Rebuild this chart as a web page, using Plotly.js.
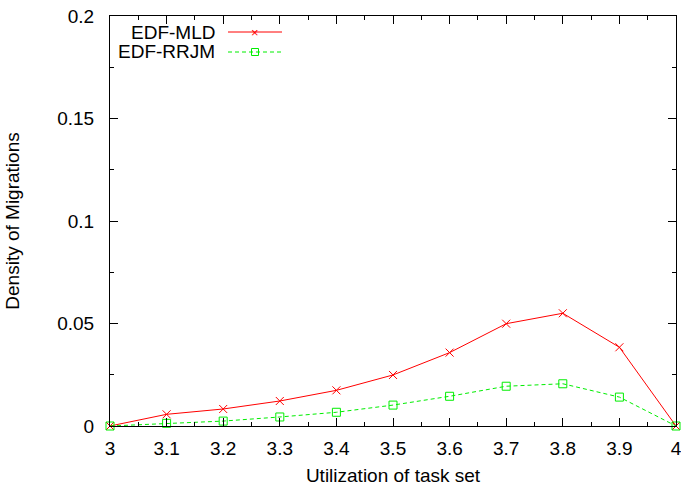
<!DOCTYPE html>
<html><head><meta charset="utf-8">
<script src="https://cdn.plot.ly/plotly-3.0.1.min.js"></script>
<style>html,body{margin:0;padding:0;background:#fff}#c{width:681px;height:488px}</style>
</head><body><div id="c"></div>
<script>
const utilization = [3.0, 3.1, 3.2, 3.3, 3.4, 3.5, 3.6, 3.7, 3.8, 3.9, 4.0];
const edfMLD  = [0, 0.0057, 0.0083, 0.0122, 0.0174, 0.0249, 0.0358, 0.0499, 0.0550, 0.0384, 0];
const edfRRJM = [0, 0.0013, 0.0024, 0.0044, 0.0067, 0.0102, 0.0145, 0.0194, 0.0206, 0.0141, 0];
const seriesNames = ["EDF-MLD", "EDF-RRJM"];
const xTicks = [3.0, 3.1, 3.2, 3.3, 3.4, 3.5, 3.6, 3.7, 3.8, 3.9, 4.0];
const xTickText = ["3", "3.1", "3.2", "3.3", "3.4", "3.5", "3.6", "3.7", "3.8", "3.9", "4"];
const yTicks = [0, 0.05, 0.1, 0.15, 0.2];
const yTickText = ["0", "0.05", "0.1", "0.15", "0.2"];

const RED = "#ff0000", GREEN = "#00ee00";
const font = {family: "Liberation Sans, Arial, sans-serif", size: 19, color: "#000"};

const traces = [
  {x: utilization, y: edfMLD, name: seriesNames[0], mode: "lines+markers", cliponaxis: false,
   line: {color: RED, width: 1}, marker: {symbol: "x-thin", size: 8, line: {color: RED, width: 1}}},
  {x: utilization, y: edfRRJM, name: seriesNames[1], mode: "lines+markers", cliponaxis: false,
   line: {color: GREEN, width: 1, dash: "4px,3px"}, marker: {symbol: "square-open", size: 8, color: GREEN, line: {color: GREEN, width: 1}}}
];

const axisCommon = {showgrid: false, zeroline: false, showline: true, linecolor: "#000", linewidth: 1,
  mirror: "ticks", ticks: "inside", ticklen: 8, tickcolor: "#000", tickwidth: 1, tickfont: font,
  ticklabeloverflow: "allow"};

const layout = {
  width: 681, height: 488,
  margin: {l: 110, r: 5, t: 16, b: 62},
  paper_bgcolor: "#fff", plot_bgcolor: "#fff",
  showlegend: false,
  font: font,
  xaxis: Object.assign({}, axisCommon, {range: [3, 4], tickmode: "array", tickvals: xTicks, ticktext: xTickText,
    ticklabelstandoff: 5,
    minor: {dtick: 0.05, tick0: 3, ticks: "inside", ticklen: 4, tickcolor: "#000", tickwidth: 1},
    title: {text: "Utilization of task set", font: font, standoff: 10}}),
  yaxis: Object.assign({}, axisCommon, {range: [0, 0.2], tickmode: "array", tickvals: yTicks, ticktext: yTickText,
    ticklabelstandoff: 11,
    minor: {dtick: 0.025, tick0: 0, ticks: "inside", ticklen: 4, tickcolor: "#000", tickwidth: 1},
    title: {text: "Density of Migrations", font: font, standoff: 32}}),
  shapes: [
    {type: "line", xref: "paper", yref: "paper", x0: (228-110)/566, x1: (282-110)/566, y0: (426-32)/410, y1: (426-32)/410, line: {color: RED, width: 1}},
    {type: "line", xref: "paper", yref: "paper", x0: (228-110)/566, x1: (282-110)/566, y0: (426-52)/410, y1: (426-52)/410, line: {color: GREEN, width: 1, dash: "4px,3px"}},
    {type: "rect", xref: "paper", yref: "paper", x0: (251.5-110)/566, x1: (258.5-110)/566, y0: (426-55.5)/410, y1: (426-48.5)/410, line: {color: GREEN, width: 1}, fillcolor: "rgba(0,0,0,0)"}
  ],
  annotations: [
    {xref: "paper", yref: "paper", x: (217-110)/566, y: (426-32)/410, xanchor: "right", yanchor: "middle", text: seriesNames[0], showarrow: false, font: font},
    {xref: "paper", yref: "paper", x: (217-110)/566, y: (426-52)/410, xanchor: "right", yanchor: "middle", text: seriesNames[1], showarrow: false, font: font},
    {xref: "paper", yref: "paper", x: (255-110)/566, y: (426-32)/410, xanchor: "center", yanchor: "middle", text: "×", showarrow: false, font: {family: font.family, size: 13, color: RED}}
  ]
};

Plotly.newPlot("c", traces, layout, {displayModeBar: false, staticPlot: true});
</script></body></html>
